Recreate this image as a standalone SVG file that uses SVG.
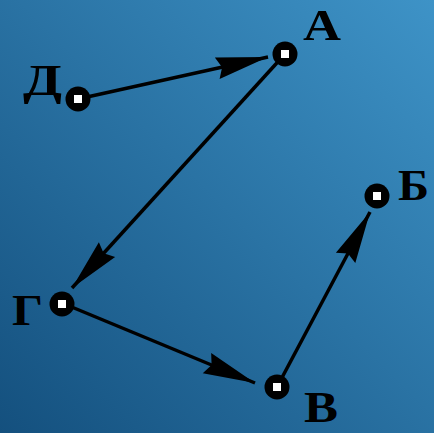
<svg xmlns="http://www.w3.org/2000/svg" width="434" height="433" viewBox="0 0 434 433">
  <defs>
    <linearGradient id="bg" x1="0" y1="1" x2="1" y2="0">
      <stop offset="0" stop-color="#14507e"/>
      <stop offset="1" stop-color="#3e93c7"/>
    </linearGradient>
    <marker id="arr" viewBox="-56 -13 58 26" markerWidth="58" markerHeight="26" refX="0" refY="0" orient="auto" markerUnits="userSpaceOnUse">
      <path d="M0,0 L-52,-11 L-47,0 L-52,11 Z" fill="#000"/>
    </marker>
  </defs>
  <style>
    .edge { stroke: #000; stroke-width: 3.5; fill: none; marker-end: url(#arr); }
    .ring { fill: #000; }
    .dot { fill: #fff; }
    .lbl { font-family: "Liberation Serif", "Times New Roman", serif; font-weight: bold; font-size: 44px; fill: #000; }
  </style>
  <rect width="434" height="433" fill="url(#bg)"/>
  <g id="connectors">
    <line class="edge" x1="78" y1="99" x2="268" y2="57"/>
    <line class="edge" x1="285" y1="54" x2="72" y2="288"/>
    <line class="edge" x1="62" y1="303" x2="255" y2="383"/>
    <line class="edge" x1="277" y1="387" x2="370" y2="212"/>
  </g>
  <g id="node-A">
    <circle class="ring" cx="285" cy="54" r="12.5"/>
    <rect class="dot" x="281" y="50" width="8" height="8"/>
    <text class="lbl" x="303" y="40" textLength="38" lengthAdjust="spacingAndGlyphs">А</text>
  </g>
  <g id="node-B">
    <circle class="ring" cx="377" cy="196" r="12.5"/>
    <rect class="dot" x="373" y="192" width="8" height="8"/>
    <text class="lbl" x="398" y="200" textLength="31" lengthAdjust="spacingAndGlyphs">Б</text>
  </g>
  <g id="node-V">
    <circle class="ring" cx="277" cy="387" r="12.5"/>
    <rect class="dot" x="273" y="383" width="8" height="8"/>
    <text class="lbl" x="304" y="422" textLength="34" lengthAdjust="spacingAndGlyphs">В</text>
  </g>
  <g id="node-G">
    <circle class="ring" cx="62" cy="304" r="12.5"/>
    <rect class="dot" x="58" y="300" width="8" height="8"/>
    <text class="lbl" x="12" y="325" textLength="31" lengthAdjust="spacingAndGlyphs">Г</text>
  </g>
  <g id="node-D">
    <circle class="ring" cx="78" cy="99" r="12.5"/>
    <rect class="dot" x="74" y="95" width="8" height="8"/>
    <text class="lbl" x="23" y="95" textLength="39" lengthAdjust="spacingAndGlyphs">Д</text>
  </g>
</svg>
